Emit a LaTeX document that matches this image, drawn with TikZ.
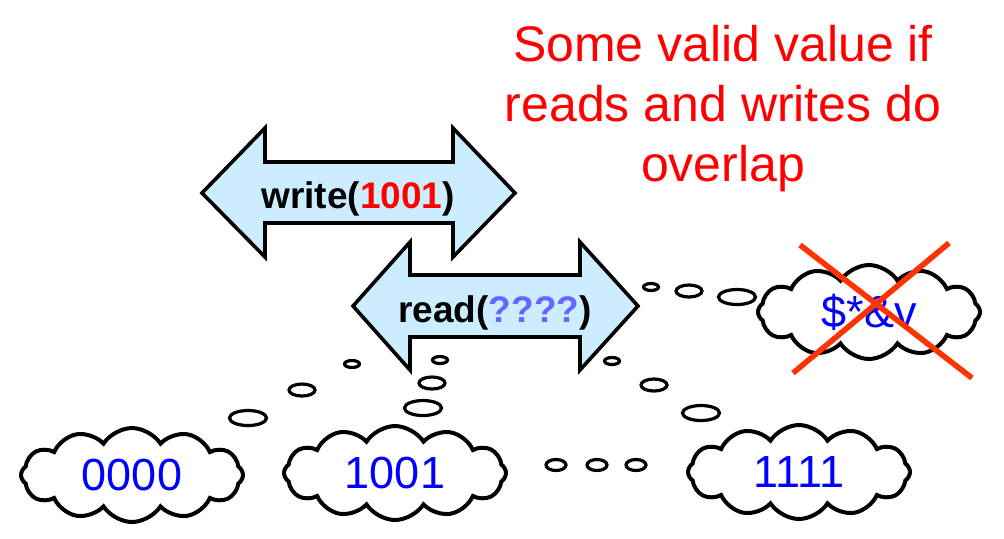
\documentclass[tikz,border=0pt]{standalone}
\usepackage{fontspec}
\setmainfont{Liberation Sans}
\usetikzlibrary{shapes.symbols}
\definecolor{arrowblue}{RGB}{204,236,255}
\definecolor{crossred}{RGB}{255,51,0}
\definecolor{qblue}{RGB}{102,102,255}

\begin{document}
\begin{tikzpicture}[x=0.5pt, y=-0.5pt]
                \tikzset{Thought/.style= {cloud, cloud puffs=12, cloud puff arc=115, cloud ignores aspect, draw, line width=2pt,
                    minimum width=111pt, minimum height=47pt, inner sep=0pt, text=blue, font=\fontsize{22.5}{26}\selectfont}}
                \tikzset{ArrowBox/.style= {draw, line width=1.8pt, line join=miter, fill=arrowblue}}
                \tikzset{Bubble/.style= {draw, line width=1.6pt}}
                \tikzset{ArrowText/.style= {anchor=base, font=\fontsize{18.5}{22}\selectfont\bfseries}}
                \useasboundingbox (0,0) rectangle (1004,538);
                % note
                \node[text=red, align=center, font=\fontsize{25}{30}\selectfont] (note) at (723,109)
                    {Some valid value if\\reads and writes do\\overlap};
                % operations
                \draw[ArrowBox] (202,193) -- (265,128) -- (265,162) -- (453,162) -- (453,128) -- (515,193)
                    -- (453,257) -- (453,223) -- (265,223) -- (265,257) -- cycle;
                \node[ArrowText] (write) at (358,208) {write(\textcolor{red}{1001})};
                \draw[ArrowBox] (353,306) -- (410,242) -- (410,275) -- (580,275) -- (580,242) -- (638,306)
                    -- (580,370) -- (580,337) -- (410,337) -- (410,370) -- cycle;
                \node[ArrowText] (read) at (495,322) {read(\textcolor{qblue}{????})};
                % values
                \node[Thought] (V0) at (132,475) {0000};
                \node[Thought] (V1) at (395,473) {1001};
                \node[Thought] (V2) at (799,472) {1111};
                \node[Thought] (V3) at (869,312) {\$*\&v};
                \draw[crossred, line width=2.8pt] (800,245) -- (972,378);
                \draw[crossred, line width=2.8pt] (949,243) -- (793,373);
                % thought bubbles
                \foreach \x/\y/\a/\b in {352/364/3.75/1.75, 302/390/6.5/3, 248/418/9.25/3.75,
                    440/360/3.75/1.75, 432/383/6.5/3, 423/408/9.25/3.75,
                    612/361/3.75/1.75, 654/385/6.5/3, 701/413/9.25/3.75,
                    651/287/3.75/1.75, 689/291/6.5/3, 737/297/9.25/3.75,
                    556/465/5/2.75, 597/465/5/2.75, 636/465/5/2.75}
                    \draw[Bubble] (\x,\y) ellipse [x radius=\a pt, y radius=\b pt];
            \end{tikzpicture}
\end{document}
